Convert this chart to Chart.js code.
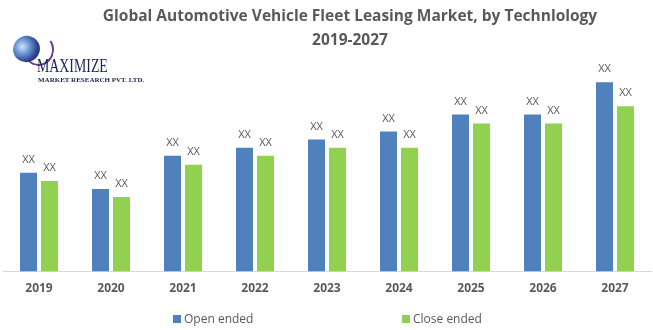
<!DOCTYPE html>
<html>
<head>
<meta charset="utf-8">
<script src="https://cdn.jsdelivr.net/npm/chart.js@4"></script>
<style>
  html, body { margin: 0; padding: 0; background: #fff; }
  #wrap { position: relative; width: 653px; height: 330px; }
  #title {
    position: absolute; left: 50px; width: 600px; top: 3px; text-align: center;
    font-family: "Open Sans", sans-serif; font-weight: bold; font-size: 15.5px; line-height: 24px; color: #595959;
  }
  #logo { position: absolute; left: 10px; top: 34px; width: 150px; height: 50px; }
  #globe {
    position: absolute; left: 3px; top: 2px; width: 27px; height: 26px; border-radius: 50%;
    background: radial-gradient(circle at 40% 35%, #cfe3f7 0%, #6f9bd6 30%, #2d3f8f 65%, #161d4d 100%);
    transform: rotate(-25deg);
  }
  #swoosh {
    position: absolute; left: 14px; top: 0px; width: 26px; height: 28px; border-radius: 50%;
    border-right: 2px solid #6a3d8f; border-bottom: 2px solid #6a3d8f; border-top: 2px solid transparent; border-left: 2px solid transparent;
    transform: rotate(10deg);
  }
  #brand {
    position: absolute; left: 27px; top: 22px; font-family: "Liberation Serif", serif;
    font-size: 18px; color: #1b2452; transform: scaleX(0.77); transform-origin: left top;
  }
  #sub {
    position: absolute; left: 28px; top: 42px; font-family: "Liberation Serif", serif;
    font-size: 7px; font-weight: bold; color: #1b2452; white-space: nowrap;
  }
  .leg { position: absolute; top: 310px; font-family: "Open Sans", sans-serif; font-size: 12px; color: #595959; white-space: nowrap; }
  .leg i { display: inline-block; width: 8px; height: 8px; margin-right: 3px; vertical-align: 0px; }
</style>
</head>
<body>
<div id="wrap">
  <canvas id="chart" width="653" height="330"></canvas>
  <div id="title">Global Automotive Vehicle Fleet Leasing Market, by Technlology<br>2019-2027</div>
  <div id="logo">
    <div id="swoosh"></div>
    <div id="globe"></div>
    <div id="brand">MAXIMIZE</div>
    <div id="sub">MARKET RESEARCH PVT. LTD.</div>
  </div>
  <div id="legend"></div>
</div>
<script>
const years = ['2019', '2020', '2021', '2022', '2023', '2024', '2025', '2026', '2027'];
const openEnded = [98, 82, 115, 123, 131, 139, 156, 156, 188];
const closeEnded = [90, 74, 106, 115, 123, 123, 147, 147, 164];
const seriesNames = ['Open ended', 'Close ended'];
const valueLabel = 'XX';

const grey = '#595959';

// "XX" above every bar
const barLabels = {
    id: 'barLabels',
    afterDatasetsDraw(chart) {
        const ctx = chart.ctx;
        ctx.save();
        ctx.font = '11px "Open Sans"';
        ctx.fillStyle = grey;
        ctx.textAlign = 'center';
        ctx.textBaseline = 'middle';
        chart.data.datasets.forEach((ds, i) => {
            chart.getDatasetMeta(i).data.forEach(bar => {
                ctx.fillText(valueLabel, bar.x, bar.y - 13);
            });
        });
        ctx.restore();
    }
};

const chart = new Chart(document.getElementById('chart'), {
    type: 'bar',
    data: {
        labels: years,
        datasets: [
            {
                label: seriesNames[0],
                data: openEnded,
                backgroundColor: '#4f81bd',
                categoryPercentage: 0.583,
                barPercentage: 0.81
            },
            {
                label: seriesNames[1],
                data: closeEnded,
                backgroundColor: '#92d050',
                categoryPercentage: 0.583,
                barPercentage: 0.81
            }
        ]
    },
    options: {
        responsive: false,
        animation: false,
        layout: { padding: { left: 3, right: 2, top: 60, bottom: 32 } },
        scales: {
            x: {
                grid: { display: false },
                border: { color: '#d9d9d9', width: 1 },
                ticks: { color: grey, padding: 2, font: { family: 'Open Sans', size: 12, weight: 'bold' } }
            },
            y: {
                display: false,
                min: 0,
                max: 210
            }
        },
        plugins: {
            legend: { display: false },
            tooltip: { enabled: false }
        }
    },
    plugins: [barLabels]
});

// legend below the axis
const legendX = [173, 402];
const legend = document.getElementById('legend');
chart.data.datasets.forEach((ds, i) => {
    const item = document.createElement('div');
    item.className = 'leg';
    item.style.left = legendX[i] + 'px';
    item.innerHTML = '<i style="background:' + ds.backgroundColor + '"></i>' + ds.label;
    legend.appendChild(item);
});
</script>
</body>
</html>
